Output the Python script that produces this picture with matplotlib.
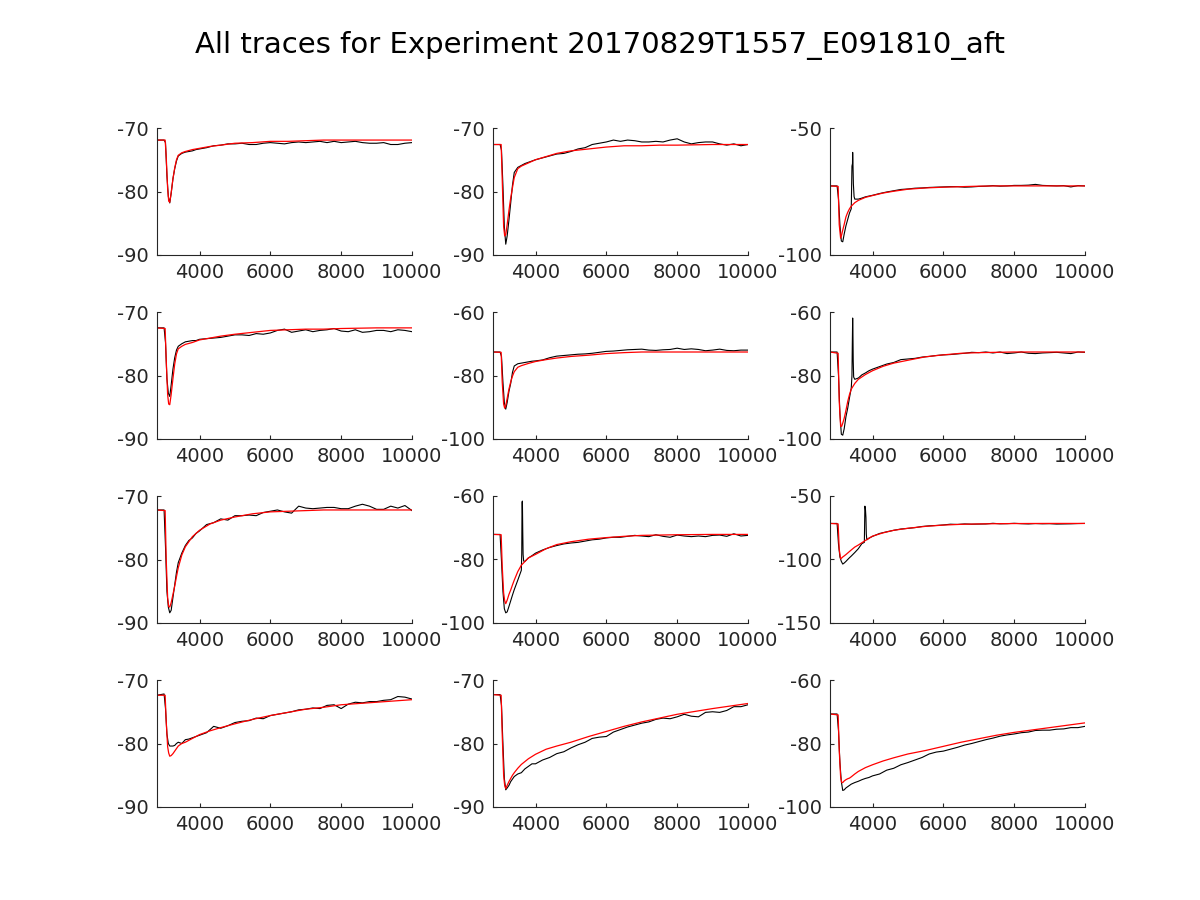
"""
All traces for one experiment: recorded voltage (black) and model fit (red)
"""

import matplotlib
import matplotlib.pyplot as plt
import numpy as np
matplotlib.use("AGG")
plt.rcParams['axes.unicode_minus'] = False

title = "All traces for Experiment 20170829T1557_E091810_aft"

# time points of the recorded traces and of the fitted curves
t_black = [2800, 3000, 3040, 3080, 3120, 3160, 3200, 3250, 3300, 3350, 3400,
           3500, 3600, 3700, 3800, 3900, 4000, 4200, 4400, 4600, 4800, 5000,
           5200, 5400, 5600, 5800, 6000, 6200, 6400, 6600, 6800, 7000, 7200,
           7400, 7600, 7800, 8000, 8200, 8400, 8600, 8800, 9000, 9200, 9400,
           9600, 9800, 10000]
t_fit = [2800, 3030, 3060, 3100, 3130, 3160, 3200, 3250, 3300, 3350, 3400,
         3500, 3600, 3800, 4000, 4300, 4600, 5000, 5500, 6000, 6500, 7000,
         7500, 8000, 9000, 10000]

# panel 1
v1_black = [-71.9, -71.9, -72.3, -77.5, -80.8, -81.8, -80.3, -78.0, -76.4, -75.2, -74.4,
            -74.0, -73.8, -73.7, -73.6, -73.4, -73.3, -73.1, -72.8, -72.7, -72.5, -72.5,
            -72.4, -72.6, -72.6, -72.4, -72.3, -72.4, -72.5, -72.3, -72.2, -72.3, -72.2,
            -72.1, -72.3, -72.1, -72.3, -72.2, -72.1, -72.3, -72.4, -72.4, -72.3, -72.6,
            -72.6, -72.4, -72.3]
v1_fit = [-71.9, -71.9, -74.5, -79.5, -81.5, -81.7, -80.2, -78.0, -76.3, -75.0, -74.3,
          -73.9, -73.7, -73.4, -73.2, -72.9, -72.7, -72.4, -72.3, -72.1, -72.1, -72.0,
          -71.9, -71.9, -71.9, -71.9]

# panel 2
v2_black = [-72.6, -72.6, -73.5, -79.0, -85.5, -88.3, -87.0, -84.5, -81.8, -79.0, -77.0,
            -76.2, -75.9, -75.6, -75.4, -75.2, -75.0, -74.7, -74.4, -74.1, -74.0, -73.7,
            -73.3, -73.1, -72.6, -72.4, -72.2, -71.9, -72.1, -71.9, -72.0, -72.2, -72.2,
            -72.1, -72.2, -71.9, -71.7, -72.2, -72.5, -72.3, -72.2, -72.2, -72.5, -72.7,
            -72.5, -72.8, -72.6]
v2_fit = [-72.6, -72.6, -78.0, -85.5, -87.0, -86.8, -85.2, -83.0, -81.0, -79.4, -77.8,
          -76.4, -76.0, -75.5, -75.0, -74.5, -74.0, -73.6, -73.3, -73.0, -72.8, -72.8,
          -72.7, -72.7, -72.6, -72.6]

# panel 3 (with a spike)
v3_black = [-72.8, -72.8, -78.0, -88.0, -94.5, -94.8, -91.8, -88.5, -86.0, -83.5, -81.8,
            -78.0, -78.0, -77.6, -77.1, -76.8, -76.5, -75.8, -75.2, -74.7, -74.2, -74.0,
            -73.7, -73.6, -73.4, -73.3, -73.2, -73.1, -73.1, -73.3, -73.2, -73.0, -72.9,
            -72.7, -72.9, -72.8, -72.6, -72.6, -72.5, -72.2, -72.6, -72.7, -72.8, -72.7,
            -73.2, -72.7, -72.8]
v3_spike_t = [3420, 3435, 3440, 3450, 3460, 3480]
v3_spike_v = [-65.0, -64.0, -59.6, -65.0, -72.0, -77.0]
v3_fit = [-72.8, -73.0, -88.0, -93.4, -92.0, -90.2, -88.0, -85.0, -83.2, -81.8, -80.8,
          -79.4, -78.5, -77.3, -76.6, -75.6, -74.9, -74.1, -73.6, -73.3, -73.1, -72.9,
          -72.8, -72.8, -72.8, -72.8]

# panel 4
v4_black = [-72.5, -72.5, -74.8, -80.5, -82.8, -83.3, -81.5, -79.0, -77.2, -76.0, -75.4,
            -75.0, -74.7, -74.6, -74.5, -74.5, -74.3, -74.2, -74.1, -74.0, -73.8, -73.6,
            -73.6, -73.7, -73.4, -73.5, -73.3, -72.9, -72.7, -73.2, -73.0, -72.8, -73.1,
            -72.9, -72.8, -72.6, -73.0, -73.1, -72.8, -73.2, -73.1, -72.9, -72.9, -73.1,
            -72.8, -72.9, -73.1]
v4_fit = [-72.5, -72.6, -77.5, -83.0, -84.5, -84.6, -83.0, -80.5, -78.2, -76.6, -75.8,
          -75.4, -75.1, -74.8, -74.4, -74.1, -73.8, -73.5, -73.2, -72.9, -72.8, -72.7,
          -72.7, -72.6, -72.5, -72.5]

# panel 5
v5_black = [-72.6, -72.6, -74.0, -82.0, -88.5, -90.6, -88.5, -85.0, -82.5, -79.0, -77.0,
            -76.3, -76.1, -75.9, -75.7, -75.5, -75.4, -75.1, -74.4, -73.9, -73.7, -73.5,
            -73.3, -73.2, -73.0, -72.7, -72.4, -72.3, -72.1, -71.9, -71.8, -71.7, -72.0,
            -72.1, -71.9, -71.8, -71.4, -71.8, -71.6, -71.8, -72.2, -72.0, -71.7, -72.1,
            -72.2, -72.0, -72.0]
v5_fit = [-72.6, -72.7, -82.0, -89.0, -90.3, -89.6, -87.2, -84.3, -82.0, -80.2, -78.8,
          -77.4, -76.9, -76.2, -75.6, -75.0, -74.5, -74.0, -73.6, -73.1, -72.8, -72.6,
          -72.6, -72.6, -72.6, -72.6]

# panel 6 (with a spike)
v6_black = [-72.6, -72.6, -80.0, -92.0, -98.5, -98.8, -96.8, -93.0, -90.3, -87.0, -84.0,
            -81.2, -80.8, -79.8, -79.2, -78.5, -78.0, -77.2, -76.4, -75.9, -75.0, -74.8,
            -74.6, -74.2, -74.0, -73.7, -73.5, -73.4, -73.2, -73.0, -72.7, -72.8, -72.6,
            -72.9, -72.6, -73.1, -72.9, -72.6, -73.0, -73.1, -72.9, -72.8, -72.7, -72.9,
            -73.1, -72.6, -72.7]
v6_spike_t = [3420, 3430, 3440, 3448, 3456, 3468]
v6_spike_v = [-80.0, -70.0, -61.9, -67.0, -75.5, -80.5]
v6_fit = [-72.6, -73.0, -88.0, -96.0, -96.0, -95.0, -93.5, -91.0, -88.2, -86.0, -84.3,
          -82.5, -81.2, -79.7, -78.5, -77.1, -76.1, -75.2, -74.1, -73.5, -73.0, -72.8,
          -72.7, -72.6, -72.6, -72.6]

# panel 7
v7_black = [-72.2, -72.2, -78.0, -85.0, -87.5, -88.4, -88.0, -86.0, -84.0, -82.0, -80.5,
            -79.0, -77.8, -77.0, -76.6, -75.9, -75.5, -74.5, -74.2, -73.6, -73.8, -73.1,
            -73.1, -73.0, -73.1, -72.6, -72.4, -72.2, -72.5, -72.7, -71.6, -71.9, -72.0,
            -71.9, -71.8, -71.8, -72.0, -72.0, -71.6, -71.3, -71.6, -72.1, -72.1, -71.6,
            -71.9, -71.5, -72.3]
v7_fit = [-72.2, -72.3, -80.0, -86.0, -87.4, -87.5, -86.8, -85.5, -84.2, -82.7, -81.3,
          -79.3, -78.0, -76.4, -75.4, -74.4, -73.8, -73.3, -72.8, -72.5, -72.4, -72.3,
          -72.2, -72.2, -72.2, -72.2]

# panel 8 (with a spike)
v8_black = [-72.1, -72.1, -80.5, -90.0, -95.5, -96.8, -96.5, -94.8, -93.0, -91.2, -89.5,
            -86.5, -83.4, -80.6, -79.5, -78.8, -78.0, -77.0, -76.2, -75.6, -75.1, -74.8,
            -74.6, -74.2, -73.8, -73.6, -73.2, -73.0, -73.0, -72.7, -72.4, -72.6, -72.8,
            -72.2, -72.7, -73.0, -72.3, -72.6, -72.8, -72.6, -72.8, -72.4, -72.3, -72.7,
            -71.9, -72.6, -72.4]
v8_spike_t = [3612, 3620, 3630, 3640, 3650, 3665]
v8_spike_v = [-78.0, -62.0, -61.6, -71.0, -78.4, -80.5]
v8_fit = [-72.1, -72.2, -82.0, -90.5, -93.0, -93.9, -92.8, -91.0, -89.6, -88.0, -86.5,
          -83.8, -81.8, -79.5, -78.4, -76.6, -75.3, -74.4, -73.6, -73.1, -72.7, -72.4,
          -72.3, -72.2, -72.1, -72.1]

# panel 9 (with a spike)
v9_black = [-71.6, -71.6, -88.0, -98.0, -101.5, -103.6, -102.8, -101.5, -100.0, -98.6, -97.3,
            -94.5, -91.5, -87.5, -60.0, -83.2, -81.8, -79.5, -78.2, -77.0, -76.0, -75.5,
            -74.9, -74.0, -73.5, -73.2, -72.8, -72.2, -72.4, -72.0, -72.2, -72.1, -72.0,
            -71.5, -71.9, -71.8, -71.5, -71.8, -72.0, -71.7, -71.9, -71.8, -72.1, -72.0,
            -71.9, -71.7, -71.6]
v9_spike_t = [3770, 3785, 3815, 3825, 3840]
v9_spike_v = [-86.5, -58.0, -67.0, -80.0, -84.5]
v9_fit = [-71.6, -72.0, -92.0, -99.5, -98.8, -98.0, -97.2, -96.1, -94.9, -93.7, -92.5,
          -90.2, -88.6, -85.0, -81.6, -79.0, -77.0, -75.4, -73.9, -72.9, -72.3, -72.0,
          -71.8, -71.7, -71.6, -71.6]

# panel 10
v10_black = [-72.4, -72.2, -74.5, -78.5, -80.0, -80.4, -80.4, -80.4, -80.3, -80.0, -79.8,
             -80.0, -79.4, -79.3, -79.1, -78.9, -78.7, -78.3, -77.3, -77.6, -77.2, -76.7,
             -76.5, -76.4, -76.0, -76.1, -75.6, -75.4, -75.2, -75.0, -74.7, -74.6, -74.4,
             -74.5, -74.0, -73.9, -74.5, -73.8, -73.5, -73.6, -73.4, -73.4, -73.2, -73.1,
             -72.6, -72.7, -73.0]
v10_fit = [-72.4, -72.4, -76.5, -80.5, -81.5, -82.0, -81.9, -81.6, -81.2, -80.8, -80.4,
           -80.0, -79.8, -79.2, -78.6, -78.0, -77.5, -76.9, -76.2, -75.6, -75.1, -74.6,
           -74.3, -73.9, -73.5, -73.1]

# panel 11
v11_black = [-72.3, -72.3, -74.0, -80.0, -85.5, -87.3, -87.0, -86.6, -86.0, -85.6, -85.2,
             -84.8, -84.6, -84.0, -83.6, -83.2, -83.2, -82.6, -82.2, -81.6, -81.3, -80.7,
             -80.2, -79.8, -79.2, -79.0, -78.9, -78.2, -77.8, -77.4, -77.1, -76.8, -76.6,
             -76.2, -76.0, -76.1, -75.8, -75.4, -75.7, -75.8, -75.1, -75.0, -75.1, -74.8,
             -74.2, -74.2, -73.9]
v11_fit = [-72.3, -72.4, -78.5, -85.0, -86.6, -87.1, -86.6, -86.0, -85.5, -85.0, -84.6,
           -83.9, -83.3, -82.4, -81.7, -80.9, -80.4, -79.8, -78.9, -78.1, -77.3, -76.6,
           -76.0, -75.4, -74.5, -73.7]

# panel 12
v12_black = [-70.7, -70.7, -76.0, -86.0, -92.0, -94.8, -94.6, -94.0, -93.6, -93.2, -92.8,
             -92.3, -91.9, -91.4, -91.0, -90.7, -90.2, -89.6, -88.4, -87.8, -86.7, -86.0,
             -85.2, -84.4, -83.3, -82.7, -82.4, -81.8, -81.2, -80.5, -80.0, -79.4, -78.8,
             -78.3, -77.7, -77.3, -77.0, -76.6, -76.4, -75.9, -75.8, -75.8, -75.5, -75.4,
             -75.0, -75.0, -74.6]
v12_fit = [-70.7, -71.0, -82.0, -90.5, -92.3, -92.3, -91.8, -91.4, -91.1, -90.9, -90.5,
           -89.6, -88.8, -87.6, -86.7, -85.5, -84.5, -83.3, -82.2, -80.9, -79.6, -78.5,
           -77.4, -76.5, -75.0, -73.5]

# y-axis limits and ticks for each panel
y_ticks = [[-90, -80, -70], [-90, -80, -70], [-100, -50],
           [-90, -80, -70], [-100, -80, -60], [-100, -80, -60],
           [-90, -80, -70], [-100, -80, -60], [-150, -100, -50],
           [-90, -80, -70], [-90, -80, -70], [-100, -80, -60]]
x_ticks = [4000, 6000, 8000, 10000]

blacks = [(v1_black, None, None), (v2_black, None, None), (v3_black, v3_spike_t, v3_spike_v),
          (v4_black, None, None), (v5_black, None, None), (v6_black, v6_spike_t, v6_spike_v),
          (v7_black, None, None), (v8_black, v8_spike_t, v8_spike_v), (v9_black, v9_spike_t, v9_spike_v),
          (v10_black, None, None), (v11_black, None, None), (v12_black, None, None)]
fits = [v1_fit, v2_fit, v3_fit, v4_fit, v5_fit, v6_fit,
        v7_fit, v8_fit, v9_fit, v10_fit, v11_fit, v12_fit]


def merged(t, v, st, sv):
    # put spike samples in with the regular ones, in time order
    if st is None:
        return t, v
    tt = np.array(list(t) + list(st))
    vv = np.array(list(v) + list(sv))
    order = np.argsort(tt, kind='stable')
    return tt[order], vv[order]


fig = plt.figure(figsize=(12, 9), dpi=100)
fig.suptitle(title, fontsize=21, y=0.965, color='#000000')

col_left = [157, 493, 830]
row_bottom = [255, 439, 623, 807]
ax_w, ax_h = 255, 127
text_col = '#262626'

for i in range(12):
    r, c = divmod(i, 3)
    ax = fig.add_axes([col_left[c] / 1200, 1 - row_bottom[r] / 900, ax_w / 1200, ax_h / 900])
    bv, st, sv = blacks[i]
    tb, vb = merged(t_black, bv, st, sv)
    ax.plot(tb, vb, color='black', lw=0.8)
    ax.plot(t_fit, fits[i], color='red', lw=0.9)
    ax.set_xlim(2800, 10000)
    ax.set_ylim(y_ticks[i][0], y_ticks[i][-1])
    ax.set_xticks(x_ticks)
    ax.set_yticks(y_ticks[i])
    ax.spines['top'].set_visible(False)
    ax.spines['right'].set_visible(False)
    for s in ['left', 'bottom']:
        ax.spines[s].set_color(text_col)
        ax.spines[s].set_linewidth(0.8)
    ax.tick_params(direction='in', length=3, width=0.8, labelsize=14,
                   colors=text_col, pad=6)

plt.savefig('out.png', dpi=100)
